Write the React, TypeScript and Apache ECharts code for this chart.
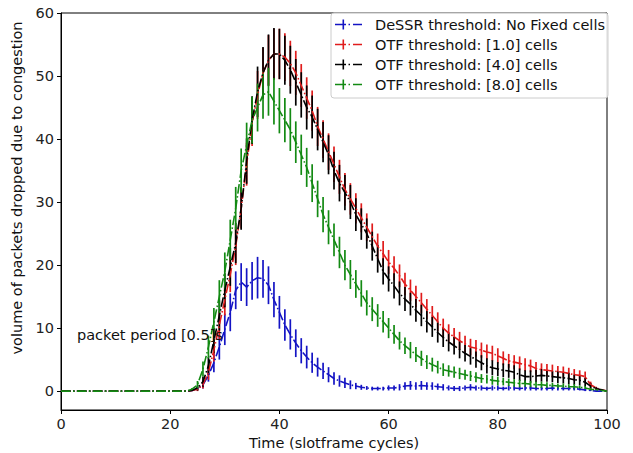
import React, { useEffect, useRef } from "react";
import * as echarts from "echarts";

const TIME = [
  0, 1, 2, 3, 4, 5, 6, 7, 8, 9,
  10, 11, 12, 13, 14, 15, 16, 17, 18, 19,
  20, 21, 22, 23, 24, 25, 26, 27, 28, 29,
  30, 31, 32, 33, 34, 35, 36, 37, 38, 39,
  40, 41, 42, 43, 44, 45, 46, 47, 48, 49,
  50, 51, 52, 53, 54, 55, 56, 57, 58, 59,
  60, 61, 62, 63, 64, 65, 66, 67, 68, 69,
  70, 71, 72, 73, 74, 75, 76, 77, 78, 79,
  80, 81, 82, 83, 84, 85, 86, 87, 88, 89,
  90, 91, 92, 93, 94, 95, 96, 97, 98, 99,
  100,
];

const Y_TICKS = [0, 10, 20, 30, 40, 50, 60];

const SERIES_NAMES = [
  "DeSSR threshold: No Fixed cells",
  "OTF threshold: [1.0] cells",
  "OTF threshold: [4.0] cells",
  "OTF threshold: [8.0] cells",
];

const ZEROS_0_23 = [0, 0, 0, 0, 0, 0, 0, 0, 0, 0, 0, 0, 0, 0, 0, 0, 0, 0, 0, 0, 0, 0, 0, 0];

const DESSR = [
  ...ZEROS_0_23,
  0.1, 0.4, 1.0, 2.5, 4.5, 7, 9.8, 12.5, 16, 17.3,
  16.5, 17.5, 18, 17.8, 16.8, 14.5, 12.5, 10.5, 9, 7.6,
  6.4, 5.4, 4.5, 3.8, 3.2, 2.6, 2.0, 1.6, 1.3, 1.0,
  0.8, 0.6, 0.5, 0.4, 0.4, 0.4, 0.5, 0.5, 0.6, 0.8,
  0.9, 0.8, 0.9, 0.8, 0.8, 0.7, 0.6, 0.5, 0.4, 0.4,
  0.5, 0.6, 0.5, 0.5, 0.4, 0.5, 0.5, 0.4, 0.5, 0.5,
  0.4, 0.5, 0.5, 0.4, 0.4, 0.4, 0.5, 0.4, 0.4, 0.4,
  0.4, 0.3, 0.2, 0.1, 0, 0, 0,
];
const DESSR_ERR = [
  ...ZEROS_0_23,
  0.1, 0.3, 0.6, 1.0, 1.5, 2.0, 2.5, 3.0, 3.0, 3.0,
  3.0, 3.0, 3.3, 3.0, 3.0, 2.8, 2.6, 2.5, 2.4, 2.2,
  2.0, 1.8, 1.6, 1.5, 1.3, 1.2, 1.0, 0.9, 0.8, 0.7,
  0.5, 0.4, 0.3, 0.3, 0.3, 0.3, 0.4, 0.4, 0.5, 0.6,
  0.7, 0.6, 0.7, 0.6, 0.6, 0.5, 0.5, 0.4, 0.4, 0.4,
  0.4, 0.5, 0.4, 0.4, 0.3, 0.4, 0.4, 0.3, 0.4, 0.4,
  0.3, 0.4, 0.4, 0.3, 0.3, 0.3, 0.4, 0.3, 0.3, 0.3,
  0.3, 0.2, 0.2, 0.1, 0, 0, 0,
];

const OTF1 = [
  ...ZEROS_0_23,
  0.1, 0.3, 1.0, 3.0, 6.5, 10.5, 14.5, 18.5, 23, 29,
  36, 42.5, 47, 50.5, 52.5, 53.5, 53.5, 53, 52, 50.5,
  48.5, 46.5, 44.5, 42, 40, 38, 36, 34, 32, 30.5,
  29, 27.5, 26, 24.5, 23, 21.8, 20.5, 19.5, 18.3, 17,
  16, 15, 14, 13, 12, 11, 10, 9.2, 8.6, 8,
  7.5, 7, 6.8, 6.5, 6.2, 6, 5.6, 5.2, 4.8, 4.6,
  4.4, 4.2, 4.0, 3.6, 3.4, 3.3, 3.2, 3.1, 3.0, 2.8,
  2.6, 2.5, 2.3, 1.0, 0.5, 0.2, 0,
];
const OTF1_ERR = [
  ...ZEROS_0_23,
  0.1, 0.3, 0.6, 1.2, 1.8, 2.2, 2.5, 2.8, 3.0, 3.2,
  3.4, 3.6, 3.8, 4.0, 4.0, 4.0, 4.0, 3.8, 3.6, 3.5,
  3.4, 3.3, 3.2, 3.1, 3.0, 2.9, 2.8, 2.7, 2.6, 2.5,
  2.4, 2.3, 2.2, 2.1, 2.0, 2.0, 1.9, 1.9, 1.8, 1.8,
  1.7, 1.7, 1.6, 1.6, 1.5, 1.5, 1.5, 1.4, 1.4, 1.4,
  1.3, 1.3, 1.3, 1.2, 1.2, 1.2, 1.2, 1.1, 1.1, 1.1,
  1.1, 1.0, 1.0, 1.0, 1.0, 1.0, 1.0, 0.9, 0.9, 0.9,
  0.9, 0.8, 0.8, 0.5, 0.2, 0.1, 0,
];

const OTF4 = [
  ...ZEROS_0_23,
  0.1, 0.5, 1.5, 4, 8, 12, 16, 19.7, 23.5, 29,
  36.5, 43, 47.5, 50.5, 52.5, 53.5, 53.5, 52.5, 51, 49,
  47, 45, 43.5, 41.5, 39.5, 37.5, 35, 33, 31.5, 30,
  28, 26.5, 25, 23, 21, 19, 17.8, 16.7, 15.5, 14.6,
  13.8, 12.8, 12, 11, 10.2, 9.3, 8.5, 7.8, 7.2, 6.6,
  6, 5.5, 5, 4.5, 4, 3.7, 3.5, 3.3, 3.2, 3.0,
  2.6, 2.3, 2.3, 2.4, 2.5, 2.4, 2.3, 2.2, 2.1, 2.0,
  1.8, 1.7, 1.4, 0.8, 0.4, 0.2, 0,
];
const OTF4_ERR = [
  ...ZEROS_0_23,
  0.1, 0.4, 0.8, 1.4, 2.0, 2.4, 2.7, 3.0, 3.2, 3.4,
  3.6, 3.8, 4.0, 4.1, 4.1, 4.1, 4.0, 3.9, 3.8, 3.7,
  3.6, 3.5, 3.4, 3.3, 3.2, 3.1, 3.0, 2.9, 2.8, 2.7,
  2.6, 2.5, 2.4, 2.3, 2.2, 2.1, 2.0, 2.0, 1.9, 1.9,
  1.8, 1.8, 1.7, 1.7, 1.6, 1.6, 1.5, 1.5, 1.4, 1.4,
  1.3, 1.3, 1.3, 1.2, 1.2, 1.2, 1.1, 1.1, 1.1, 1.1,
  1.0, 1.0, 1.0, 1.0, 1.0, 0.9, 0.9, 0.9, 0.9, 0.9,
  0.8, 0.8, 0.7, 0.5, 0.2, 0.1, 0,
];

const OTF8 = [
  ...ZEROS_0_23,
  0.3, 1.0, 3.5, 7, 11, 15, 19, 24, 29, 35,
  39, 43, 45, 47, 47.5, 46, 44.5, 43, 41.5, 39.5,
  37.5, 35.5, 33, 30.5, 28, 26, 24, 22, 20, 18.5,
  17, 15.5, 14, 13, 12, 11, 10, 9, 8, 7.2,
  6.5, 5.8, 5.2, 4.6, 4.2, 3.8, 3.4, 3.2, 3.0, 2.8,
  2.6, 2.4, 2.2, 2.0, 1.9, 1.7, 1.6, 1.5, 1.4, 1.3,
  1.2, 1.2, 1.1, 1.0, 1.0, 0.9, 0.9, 0.8, 0.8, 0.7,
  0.7, 0.6, 0.5, 0.3, 0.2, 0.1, 0,
];
const OTF8_ERR = [
  ...ZEROS_0_23,
  0.2, 0.6, 1.2, 1.8, 2.2, 2.6, 3.0, 3.2, 3.4, 3.5,
  3.6, 3.7, 3.8, 3.8, 3.8, 3.7, 3.6, 3.5, 3.4, 3.3,
  3.2, 3.1, 3.0, 2.9, 2.8, 2.7, 2.6, 2.5, 2.4, 2.3,
  2.2, 2.1, 2.0, 1.9, 1.8, 1.7, 1.6, 1.5, 1.4, 1.3,
  1.3, 1.2, 1.2, 1.1, 1.1, 1.0, 1.0, 0.9, 0.9, 0.9,
  0.8, 0.8, 0.8, 0.7, 0.7, 0.7, 0.7, 0.6, 0.6, 0.6,
  0.6, 0.5, 0.5, 0.5, 0.5, 0.5, 0.4, 0.4, 0.4, 0.4,
  0.4, 0.3, 0.3, 0.2, 0.1, 0.1, 0,
];

const COLORS = ["#1414c4", "#e01c1c", "#000000", "#138a13"];
const FONT = "DejaVu Sans";
const FS = 14.5;
const LEGEND_ICON =
  "path://M0,4.25h11v1.5h-11z M7.5,0h1.6v10h-1.6z M13.5,4.25h1.5v1.5h-1.5z M18,4.25h9v1.5h-9z M34.99,4.99h0.01v0.01h-0.01z";

export default function App() {
  const ref = useRef<HTMLDivElement>(null);

  useEffect(() => {
    const chart = echarts.init(ref.current!, null, { renderer: "svg" });
    const sets = [
      { name: SERIES_NAMES[0], vals: DESSR, errs: DESSR_ERR, color: COLORS[0] },
      { name: SERIES_NAMES[1], vals: OTF1, errs: OTF1_ERR, color: COLORS[1] },
      { name: SERIES_NAMES[2], vals: OTF4, errs: OTF4_ERR, color: COLORS[2] },
      { name: SERIES_NAMES[3], vals: OTF8, errs: OTF8_ERR, color: COLORS[3] },
    ];
    const series: any[] = [];
    sets.forEach((s) => {
      series.push({
        type: "custom",
        name: s.name,
        silent: true,
        clip: true,
        itemStyle: { color: s.color },
        data: TIME.map((t, i) => [t, s.vals[i], s.errs[i]]),
        renderItem: (params: any, api: any) => {
          const x = api.value(0);
          const y = api.value(1);
          const e = api.value(2);
          const a = api.coord([x, y - e]);
          const b = api.coord([x, y + e]);
          return {
            type: "line",
            shape: { x1: a[0], y1: a[1], x2: b[0], y2: b[1] },
            style: { stroke: s.color, lineWidth: 1.7 },
          };
        },
      });
      series.push({
        type: "line",
        name: s.name,
        silent: true,
        symbol: "none",
        showSymbol: false,
        itemStyle: { color: s.color },
        lineStyle: { color: s.color, width: 1.6, type: [9.6, 2.4, 1.5, 2.4] },
        data: TIME.map((t, i) => [t, s.vals[i]]),
      });
    });

    chart.setOption({
      animation: false,
      backgroundColor: "#ffffff",
      textStyle: { fontFamily: FONT },
      grid: {
        left: 61,
        right: 26,
        top: 13,
        bottom: 43,
        show: true,
        borderColor: "#000",
        borderWidth: 1,
        backgroundColor: "transparent",
        containLabel: false,
        outerBoundsMode: "none",
      },
      legend: {
        orient: "vertical",
        left: 331,
        top: 13,
        padding: [3, 3, 5, 4],
        itemWidth: 35,
        itemHeight: 10,
        itemGap: 3,
        backgroundColor: "rgba(255,255,255,0.85)",
        borderColor: "#cccccc",
        borderWidth: 1,
        borderRadius: 3,
        itemStyle: { borderWidth: 0 },
        textStyle: { fontSize: FS, fontFamily: FONT, color: "#111", lineHeight: 17 },
        data: SERIES_NAMES.map((n) => ({ name: n, icon: LEGEND_ICON })),
      },
      xAxis: {
        type: "value",
        min: 0,
        max: 100,
        interval: 20,
        name: "Time (slotframe cycles)",
        nameLocation: "middle",
        nameGap: 22,
        nameTextStyle: { fontSize: FS, fontFamily: FONT, color: "#111" },
        axisLine: { onZero: false, lineStyle: { color: "#000", width: 1 } },
        axisTick: { length: 4, lineStyle: { color: "#000" } },
        axisLabel: { fontSize: FS, fontFamily: FONT, color: "#222", margin: 6 },
        splitLine: { show: false },
      },
      yAxis: {
        type: "value",
        min: -3,
        max: 60,
        name: "volume of packets dropped due to congestion",
        nameLocation: "middle",
        nameGap: 28,
        nameTextStyle: { fontSize: FS, fontFamily: FONT, color: "#111", padding: [0, 0, 0, 47] },
        axisLine: { onZero: false, lineStyle: { color: "#000", width: 1 } },
        axisTick: { length: 4, customValues: Y_TICKS, lineStyle: { color: "#000" } },
        axisLabel: { fontSize: FS, fontFamily: FONT, color: "#222", margin: 7, customValues: Y_TICKS },
        splitLine: { show: false },
      },
      graphic: [
        {
          type: "text",
          left: 77,
          top: 327,
          z: 100,
          style: { text: "packet period [0.5]s", fontSize: FS, fontFamily: FONT, fill: "#111" },
        },
      ],
      series,
    });

    return () => chart.dispose();
  }, []);

  return (
    <div
      ref={ref}
      style={{ position: "fixed", left: 0, top: 0, width: 633, height: 453, background: "#fff" }}
    />
  );
}
